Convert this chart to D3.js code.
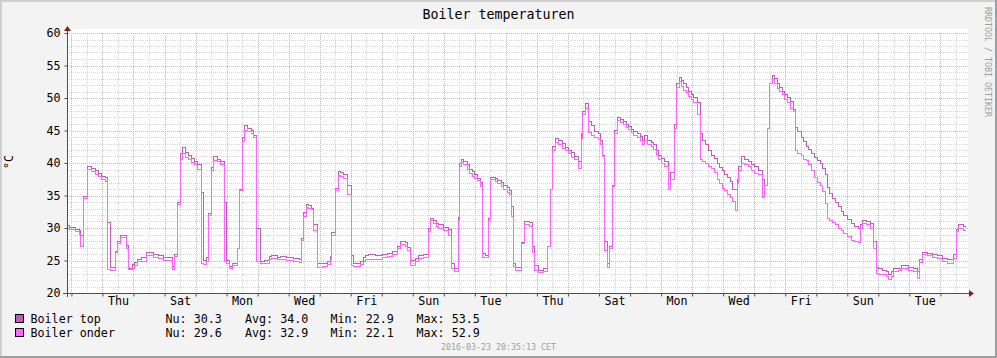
<!DOCTYPE html>
<html><head><meta charset="utf-8">
<script src="https://cdn.jsdelivr.net/npm/d3@7"></script>
<style>
html,body{margin:0;padding:0;background:#fff;}
svg{display:block;}
text{font-family:"DejaVu Sans Mono",monospace;}
</style></head><body>
<svg id="chart" width="997" height="358"></svg>
<script>
// ---- data (time in hours since graph start, 2016-02-23 20:35:13 CET) ----
const hours = [
  0, 2.3, 6.2, 9.3, 10.1, 12.6, 15.7, 19.3, 21.7, 24.0,
  26.8, 29.4, 31.2, 33.8, 37.4, 38.9, 41.5, 46.2, 47.7, 50.8,
  52.4, 54.4, 57.5, 61.6, 66.7, 70.6, 74.5, 81.2, 83.5, 85.3,
  87.6, 89.5, 92.0, 94.1, 96.1, 98.8, 101.3, 103.9, 105.7, 107.5,
  109.6, 111.6, 113.5, 116.0, 118.6, 122.0, 123.7, 125.5, 128.1, 131.7,
  133.3, 135.9, 137.1, 139.8, 142.3, 144.1, 146.7, 149.5, 152.9, 156.5,
  158.5, 162.4, 165.0, 170.1, 175.3, 179.7, 181.2, 183.1, 185.1, 186.9,
  188.9, 190.8, 193.6, 197.2, 201.1, 203.6, 204.9, 207.5, 210.1, 211.4,
  214.0, 217.3, 219.9, 221.7, 226.8, 229.5, 230.7, 233.3, 238.4, 243.6,
  247.5, 251.4, 255.2, 257.8, 261.6, 263.5, 265.5, 269.4, 272.0, 275.9,
  279.2, 281.0, 283.1, 285.4, 287.5, 291.3, 294.7, 297.2, 299.8, 302.4,
  303.4, 304.9, 306.8, 309.4, 311.1, 313.2, 315.3, 317.1, 319.6, 321.5,
  324.0, 326.1, 327.4, 331.2, 333.3, 335.9, 337.7, 340.3, 342.1, 343.6,
  345.5, 347.2, 351.3, 354.0, 357.5, 360.2, 361.7, 364.8, 368.7, 371.8,
  373.8, 375.6, 377.6, 380.3, 382.8, 385.4, 387.5, 390.0, 392.7, 395.2,
  397.8, 398.8, 400.9, 403.5, 405.5, 408.1, 410.7, 412.4, 414.3, 415.8,
  417.6, 419.4, 422.0, 423.6, 426.1, 427.9, 430.5, 432.3, 434.4, 436.4,
  438.3, 440.8, 443.4, 445.2, 446.8, 448.6, 451.9, 453.7, 455.5, 457.6,
  459.6, 461.7, 465.3, 466.6, 469.7, 471.0, 473.6, 475.1, 477.0, 478.8,
  480.8, 482.8, 484.7, 487.2, 489.8, 491.1, 493.6, 496.3, 498.3, 500.9,
  502.7, 504.5, 506.6, 508.6, 510.4, 513.0, 514.8, 516.8, 518.2, 519.5,
  521.5, 524.1, 526.7, 529.2, 531.9, 535.0, 537.5, 539.6, 542.1, 543.1,
  545.2, 546.8, 549.1, 550.9, 553.0, 555.1, 556.8, 559.4, 562.0, 563.3,
  565.3, 567.9, 569.8, 571.5, 573.6, 575.6, 577.7, 580.0, 582.6, 584.4,
  586.4, 587.8, 589.5, 592.2, 594.2, 596.3, 598.8, 600.7, 603.2, 606.6,
  609.2, 611.8, 613.5, 615.4, 617.9, 621.3, 623.9, 625.7, 627.2, 630.8,
  633.4, 635.5, 637.5, 639.3, 642.7, 645.2, 647.9, 650.9, 654.8, 657.4,
  659.1, 661.2, 665.1, 669.0, 672.8, 676.7, 680.6, 683.1, 685.8, 687.5,
  689.6, 693.4, 695.2
];
const boilerTop = [
  30.4, 30.1, 29.8, 29.6, 28.9, 34.9, 39.5, 39.2, 38.8, 38.4,
  38.0, 37.7, 30.8, 24.0, 26.4, 27.9, 28.9, 27.3, 23.8, 24.4,
  24.7, 25.1, 25.4, 26.2, 26.0, 25.8, 25.5, 24.1, 25.9, 34.0,
  41.4, 42.4, 41.6, 41.2, 40.7, 40.2, 39.7, 35.5, 25.0, 25.4,
  32.3, 39.3, 41.0, 40.6, 40.2, 34.0, 25.0, 24.1, 24.6, 26.9,
  36.0, 43.9, 45.7, 45.3, 45.0, 44.2, 29.9, 24.9, 25.0, 25.6,
  25.7, 25.5, 25.6, 25.4, 25.3, 25.2, 28.4, 32.4, 33.6, 33.4,
  33.0, 30.5, 24.6, 24.5, 24.8, 25.6, 29.3, 36.1, 38.7, 38.5,
  38.3, 36.5, 25.8, 24.6, 24.9, 25.5, 25.7, 25.9, 25.7, 26.0,
  26.1, 26.4, 27.2, 27.9, 27.7, 27.0, 25.0, 25.3, 25.7, 25.9,
  30.0, 31.5, 31.1, 30.7, 30.5, 30.1, 29.7, 24.6, 23.8, 31.6,
  40.0, 40.6, 40.2, 39.7, 39.0, 38.7, 38.2, 37.6, 37.0, 26.1,
  25.7, 31.5, 37.8, 37.6, 37.3, 37.0, 36.6, 36.3, 35.8, 33.3,
  24.6, 24.0, 27.7, 31.0, 30.8, 27.2, 24.2, 23.5, 23.8, 27.1,
  35.9, 42.5, 43.8, 43.5, 43.0, 42.4, 42.0, 41.6, 41.0, 40.3,
  44.5, 48.0, 49.2, 46.4, 45.7, 44.8, 44.5, 43.5, 41.2, 28.0,
  24.5, 27.2, 36.6, 45.0, 47.0, 46.7, 46.4, 46.0, 45.6, 45.2,
  44.8, 44.5, 44.1, 43.5, 44.2, 43.4, 43.1, 42.8, 41.9, 41.2,
  40.7, 40.3, 35.9, 38.5, 45.9, 52.2, 53.2, 52.7, 52.2, 51.6,
  51.0, 50.6, 50.1, 49.3, 44.5, 43.5, 42.8, 42.0, 41.2, 40.7,
  39.9, 39.3, 38.8, 38.2, 37.7, 37.1, 35.9, 35.9, 37.4, 39.5,
  41.0, 40.6, 40.2, 39.7, 39.4, 38.9, 37.4, 36.6, 45.3, 52.3,
  53.5, 53.0, 52.3, 51.6, 51.0, 50.6, 50.1, 49.4, 48.3, 45.5,
  44.8, 44.0, 43.3, 42.6, 42.1, 41.4, 40.9, 40.4, 39.9, 39.2,
  38.3, 36.3, 35.3, 34.6, 33.9, 33.3, 32.5, 32.0, 31.3, 30.7,
  30.3, 30.0, 30.5, 31.1, 31.0, 30.7, 27.9, 24.0, 23.8, 23.5,
  23.3, 22.9, 23.3, 23.8, 23.8, 24.2, 24.3, 24.0, 23.8, 23.3,
  25.1, 26.2, 26.1, 26.0, 25.7, 25.3, 25.2, 25.1, 26.0, 29.7,
  30.5, 30.3, 30.3
];
const boilerOnder = [
  30.0, 29.7, 29.4, 29.0, 27.2, 34.6, 39.0, 38.7, 38.3, 37.9,
  37.5, 37.2, 23.6, 23.5, 26.2, 27.6, 28.6, 26.9, 23.6, 23.8,
  24.2, 24.8, 24.9, 25.7, 25.5, 25.3, 25.0, 23.6, 25.6, 33.6,
  40.5, 41.4, 40.9, 40.5, 40.1, 39.8, 39.0, 24.5, 24.4, 24.8,
  32.0, 38.9, 40.4, 40.2, 39.7, 24.8, 24.6, 23.8, 24.3, 26.9,
  35.7, 43.3, 45.0, 44.8, 44.6, 43.9, 24.8, 24.5, 24.6, 25.2,
  25.3, 25.1, 25.2, 25.0, 24.8, 24.7, 28.1, 31.8, 33.2, 33.0,
  32.8, 29.6, 24.0, 24.1, 24.4, 25.1, 28.9, 35.8, 38.1, 38.0,
  37.6, 35.1, 24.3, 24.1, 24.4, 24.9, 25.1, 25.2, 25.2, 25.5,
  25.6, 25.9, 26.9, 27.4, 27.2, 26.6, 24.3, 24.8, 25.3, 25.5,
  29.4, 31.1, 30.7, 30.3, 30.0, 29.6, 28.8, 23.8, 23.3, 31.2,
  39.4, 40.1, 39.7, 39.0, 38.4, 37.9, 37.6, 37.3, 36.4, 25.5,
  25.5, 31.1, 37.4, 37.1, 36.9, 36.4, 35.9, 35.4, 35.1, 31.8,
  24.1, 23.4, 27.6, 30.6, 30.2, 26.2, 23.4, 23.1, 23.3, 27.1,
  35.9, 41.9, 43.1, 42.8, 42.3, 41.9, 41.4, 40.9, 40.5, 39.1,
  43.8, 47.4, 48.4, 44.7, 44.3, 44.0, 43.6, 42.9, 41.0, 26.6,
  23.9, 26.9, 36.4, 44.5, 46.5, 46.2, 45.9, 45.5, 45.1, 44.7,
  44.3, 44.0, 43.5, 42.8, 43.5, 42.9, 42.5, 42.1, 41.2, 40.5,
  40.0, 39.5, 35.9, 37.5, 45.3, 51.6, 52.5, 51.8, 51.2, 50.8,
  50.3, 49.8, 49.3, 47.4, 40.5, 40.2, 39.9, 39.5, 39.2, 38.5,
  37.5, 36.8, 36.1, 35.7, 35.2, 34.7, 34.1, 32.7, 36.8, 38.9,
  40.0, 39.7, 39.4, 38.9, 38.4, 38.2, 34.7, 36.6, 45.3, 52.2,
  52.9, 52.2, 51.5, 51.0, 50.5, 49.7, 49.3, 48.4, 47.9, 42.0,
  41.5, 41.2, 40.6, 40.4, 39.7, 38.9, 37.7, 37.0, 36.5, 35.6,
  33.8, 31.5, 31.2, 30.8, 30.5, 30.0, 29.6, 29.2, 28.7, 28.1,
  27.9, 27.8, 30.0, 30.7, 30.5, 29.9, 26.9, 23.0, 22.9, 22.8,
  22.6, 22.1, 22.6, 23.3, 23.4, 23.8, 23.7, 23.5, 23.3, 22.2,
  24.7, 25.9, 25.7, 25.5, 25.3, 24.8, 24.6, 24.5, 25.3, 29.4,
  30.0, 29.6, 29.6
];
const yTicks = [20, 25, 30, 35, 40, 45, 50, 55, 60];
const seriesNames = ["Boiler top", "Boiler onder"];
const seriesColors = ["#c05cbc", "#ff66ff"];
const statNu  = [30.3, 29.6];
const statAvg = [34.0, 32.9];
const statMin = [22.9, 22.1];
const statMax = [53.5, 52.9];
const titleText = "Boiler temperaturen";
const yLabel = "°C";
const stampText = "2016-03-23 20:35:13 CET";
const sideText = "RRDTOOL / TOBI OETIKER";

// ---- layout ----
const W = 997, H = 358;
const L = 67, R = 967, T = 33, B = 293;
const start = new Date(Date.UTC(2016, 1, 23, 20, 35, 13));
const end = new Date(start.getTime() + 29 * 24 * 3600e3);
const toDate = h => new Date(start.getTime() + h * 3600e3);

const x = d3.scaleUtc().domain([start, end]).range([L, R]);
const y = d3.scaleLinear().domain([20, 60]).range([B, T]);

const svg = d3.select("#chart");

// background and 3D frame
svg.append("rect").attr("width", W).attr("height", H).attr("fill", "#f3f3f3");
svg.append("rect").attr("x", 0).attr("y", 0).attr("width", W).attr("height", 2).attr("fill", "#cfcfcf");
svg.append("rect").attr("x", 0).attr("y", 0).attr("width", 2).attr("height", H).attr("fill", "#cfcfcf");
svg.append("rect").attr("x", W - 2).attr("y", 0).attr("width", 2).attr("height", H).attr("fill", "#9e9e9e");
svg.append("rect").attr("x", 0).attr("y", H - 2).attr("width", W).attr("height", 2).attr("fill", "#9e9e9e");

// canvas
svg.append("rect").attr("x", L).attr("y", 29).attr("width", R - L + 1).attr("height", B - 29).attr("fill", "#ffffff");

// grid
const grid = svg.append("g").attr("shape-rendering", "crispEdges").attr("stroke-dasharray", "1,1");
const minorY = d3.range(21, 60).filter(v => v % 5 !== 0);
const majorY = yTicks;
const days = d3.utcDay.range(start, end);
const noons = d3.utcHour.range(start, end).filter(d => d.getUTCHours() === 12);

grid.selectAll(".hmin").data(minorY).join("line")
  .attr("x1", L).attr("x2", R + 1).attr("y1", d => Math.round(y(d)) + 0.5).attr("y2", d => Math.round(y(d)) + 0.5)
  .attr("stroke", "#d6d6d6");
grid.selectAll(".vmin").data(noons).join("line")
  .attr("x1", d => Math.round(x(d)) + 0.5).attr("x2", d => Math.round(x(d)) + 0.5).attr("y1", T).attr("y2", B)
  .attr("stroke", "#d6d6d6");
grid.selectAll(".hmaj").data(majorY.filter(v => v > 20)).join("line")
  .attr("x1", L).attr("x2", R + 1).attr("y1", d => Math.round(y(d)) + 0.5).attr("y2", d => Math.round(y(d)) + 0.5)
  .attr("stroke", "#e8aaaa");
grid.selectAll(".vmaj").data(days).join("line")
  .attr("x1", d => Math.round(x(d)) + 0.5).attr("x2", d => Math.round(x(d)) + 0.5).attr("y1", T).attr("y2", B)
  .attr("stroke", "#e8aaaa");

// series
const topData = hours.map((h, i) => ({ t: toDate(h), v: boilerTop[i] }));
const onderData = hours.map((h, i) => ({ t: toDate(h), v: boilerOnder[i] }));
const line = d3.line().x(d => x(d.t)).y(d => y(d.v)).curve(d3.curveStepAfter);
[topData, onderData].forEach((data, i) => {
  svg.append("path").datum(data)
    .attr("d", line)
    .attr("fill", "none")
    .attr("stroke", seriesColors[i])
    .attr("stroke-width", 1)
    .attr("shape-rendering", "crispEdges");
});

// y axis labels
const yAxis = d3.axisLeft(y).tickValues(yTicks).tickSize(3).tickPadding(4).tickFormat(d3.format("d"));
const gy = svg.append("g").attr("transform", `translate(${L + 0.5},0)`).call(yAxis);
gy.select(".domain").remove();
gy.selectAll(".tick line").attr("stroke", "#4f4f4f");
gy.selectAll("text").attr("font-family", "DejaVu Sans Mono").attr("font-size", 11.7).attr("fill", "#000");

// x axis ticks at midnights, labels at every other noon
const xTicks = d3.axisBottom(x).tickValues(days).tickSize(3).tickFormat("");
const gx = svg.append("g").attr("transform", `translate(0,${B + 0.5})`).call(xTicks);
gx.select(".domain").remove();
gx.selectAll(".tick line").attr("stroke", "#4f4f4f");
const labelNoons = noons.filter((d, i) => i % 2 === 1);
const xLabels = d3.axisBottom(x).tickValues(labelNoons).tickSize(0).tickPadding(4).tickFormat(d3.utcFormat("%a"));
const gxl = svg.append("g").attr("transform", `translate(0,${B})`).call(xLabels);
gxl.select(".domain").remove();
gxl.selectAll("text").attr("font-family", "DejaVu Sans Mono").attr("font-size", 11.7).attr("fill", "#000");

// axis lines and arrows
svg.append("line").attr("x1", L - 4).attr("x2", R + 3).attr("y1", B + 0.5).attr("y2", B + 0.5)
  .attr("stroke", "#4f4f4f").attr("shape-rendering", "crispEdges");
svg.append("line").attr("x1", L + 0.5).attr("x2", L + 0.5).attr("y1", B + 4).attr("y2", T - 4)
  .attr("stroke", "#4f4f4f").attr("shape-rendering", "crispEdges");
svg.append("path").attr("d", `M${L - 3},${T - 2}L${L + 4},${T - 2}L${L + 0.5},${T - 7}Z`).attr("fill", "#7f1f1f");
svg.append("path").attr("d", `M${R + 2},${B - 3}L${R + 2},${B + 4}L${R + 7},${B + 0.5}Z`).attr("fill", "#7f1f1f");

// title
svg.append("text").attr("x", W / 2).attr("y", 18.5).attr("text-anchor", "middle")
  .attr("font-size", 13.3).attr("fill", "#000").text(titleText);

// y label
svg.append("text").attr("transform", `translate(13,162) rotate(-90)`).attr("text-anchor", "middle")
  .attr("font-size", 11.7).attr("fill", "#000").text(yLabel);

// side text
svg.append("text").attr("transform", `translate(985,7) rotate(90)`).attr("text-anchor", "start")
  .attr("font-size", 8.3).attr("fill", "#a0a0a0").text(sideText);

// legend
const rowBase = [322.5, 336.5];
const boxTop = [314.5, 328.5];
const fmt = d3.format(".1f");
seriesNames.forEach((name, i) => {
  svg.append("rect").attr("x", 15.5).attr("y", boxTop[i]).attr("width", 8).attr("height", 8)
    .attr("fill", seriesColors[i]).attr("stroke", "#000").attr("stroke-width", 1).attr("shape-rendering", "crispEdges");
  const g = svg.append("g").attr("font-size", 11.7).attr("fill", "#000");
  g.append("text").attr("x", 30.5).attr("y", rowBase[i]).text(name);
  g.append("text").attr("x", 165.5).attr("y", rowBase[i]).text("Nu: " + fmt(statNu[i]));
  g.append("text").attr("x", 245).attr("y", rowBase[i]).text("Avg: " + fmt(statAvg[i]));
  g.append("text").attr("x", 330.5).attr("y", rowBase[i]).text("Min: " + fmt(statMin[i]));
  g.append("text").attr("x", 416.5).attr("y", rowBase[i]).text("Max: " + fmt(statMax[i]));
});

// timestamp
svg.append("text").attr("x", 498.5).attr("y", 350).attr("text-anchor", "middle")
  .attr("font-size", 8.3).attr("fill", "#a0a0a0").text(stampText);
</script>
</body></html>
